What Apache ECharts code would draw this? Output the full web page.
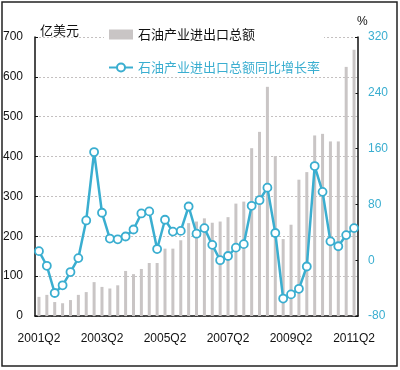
<!DOCTYPE html>
<html><head><meta charset="utf-8">
<script src="https://cdn.jsdelivr.net/npm/echarts@6/dist/echarts.min.js"></script>
<style>html,body{margin:0;padding:0;background:#fff}#c{width:400px;height:370px}</style>
</head><body><div id="c"></div>
<script>
const categories = ['2001Q2','2001Q3','2001Q4','2002Q1','2002Q2','2002Q3','2002Q4','2003Q1','2003Q2','2003Q3','2003Q4','2004Q1','2004Q2','2004Q3','2004Q4','2005Q1','2005Q2','2005Q3','2005Q4','2006Q1','2006Q2','2006Q3','2006Q4','2007Q1','2007Q2','2007Q3','2007Q4','2008Q1','2008Q2','2008Q3','2008Q4','2009Q1','2009Q2','2009Q3','2009Q4','2010Q1','2010Q2','2010Q3','2010Q4','2011Q1','2011Q2'];
const tradeValue = [48,53,35,32,40,53,60,85,73,69,77,113,105,118,133,133,169,169,190,233,237,245,234,237,248,282,287,421,462,575,401,193,229,342,361,453,457,438,438,625,668];
const growthRate = [13,-8,-47,-36,-17,3,57,155,68,31,30,34,44,67,70,16,58,41,42,77,38,46,22,0,6,18,23,78,86,104,39,-55,-49,-41,-9,135,98,27,20,36,46];
const leftTicks = [0,700,100];
const rightTicks = [-80,320,80];
const barName = '石油产业进出口总额';
const lineName = '石油产业进出口总额同比增长率';

const numFont = "'Liberation Sans Narrow','Liberation Sans',sans-serif";
const cjk = "'Noto Sans CJK SC',sans-serif";
const teal = '#3aaed0';

const chart = echarts.init(document.getElementById('c'));
chart.setOption({
  backgroundColor: '#fff',
  animation: false,
  grid: {left: 35, right: 42, top: 37, bottom: 54},
  graphic: [
    {type: 'rect', shape: {x: 2, y: 2, width: 395, height: 364}, style: {fill: 'none', stroke: '#222', lineWidth: 1.5}, z: 100},
    {type: 'text', left: 40, top: 24, style: {text: '亿美元', font: "13px 'Noto Sans CJK SC'", fill: '#111'}},
    {type: 'text', left: 357, top: 16, style: {text: '%', font: "12px 'Liberation Sans'", fill: '#111'}}
  ],
  legend: {
    orient: 'vertical', left: 104, top: 26, itemGap: 20, itemWidth: 24, itemHeight: 10,
    backgroundColor: '#fff', padding: [2, 4, 2, 4],
    textStyle: {fontFamily: cjk, fontSize: 13},
    data: [
      {name: barName, icon: 'rect', textStyle: {color: '#111'}},
      {name: lineName, textStyle: {color: teal}}
    ]
  },
  xAxis: {
    type: 'category', data: categories, boundaryGap: true,
    axisLine: {lineStyle: {color: '#111', width: 1.5}},
    axisTick: {interval: 1, length: 4, inside: false, lineStyle: {color: '#111'}},
    axisLabel: {interval: 7, margin: 17, fontSize: 12, color: '#111', fontFamily: numFont}
  },
  yAxis: [
    {type: 'value', min: leftTicks[0], max: leftTicks[1], interval: leftTicks[2],
     axisLine: {show: true, lineStyle: {color: '#111', width: 1.5}},
     axisTick: {show: true, inside: true, length: 3, lineStyle: {color: '#111'}},
     axisLabel: {margin: 12, fontSize: 12, color: '#111', fontFamily: numFont},
     splitLine: {show: true, lineStyle: {color: '#c4c0c0', type: [2, 2], width: 1}}},
    {type: 'value', min: rightTicks[0], max: rightTicks[1], interval: rightTicks[2], position: 'right',
     axisLine: {show: true, lineStyle: {color: '#111', width: 1.5}},
     axisTick: {show: true, inside: true, length: 3, lineStyle: {color: '#111'}},
     axisLabel: {margin: 10, fontSize: 12, color: teal, fontFamily: numFont},
     splitLine: {show: false}}
  ],
  series: [
    {name: barName, type: 'bar', data: tradeValue, yAxisIndex: 0, barWidth: 3,
     itemStyle: {color: '#c9c5c5'}},
    {name: lineName, type: 'line', data: growthRate, yAxisIndex: 1,
     symbol: 'circle', symbolSize: 8, showAllSymbol: true,
     lineStyle: {color: teal, width: 2.5},
     itemStyle: {color: '#fff', borderColor: teal, borderWidth: 1.8}}
  ]
});
</script></body></html>
